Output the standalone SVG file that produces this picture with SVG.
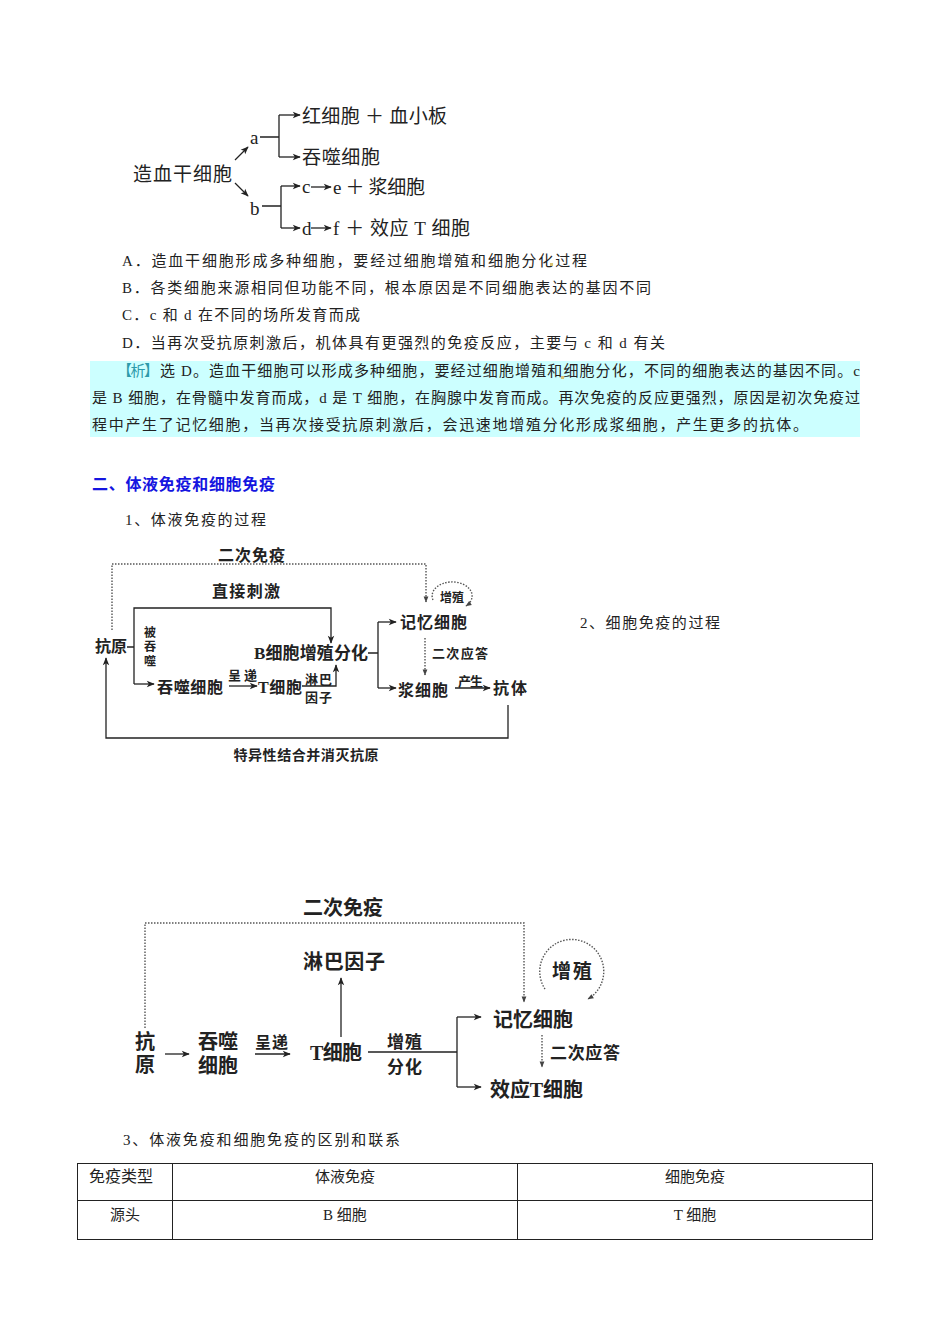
<svg xmlns="http://www.w3.org/2000/svg" width="950" height="1344" viewBox="0 0 950 1344">
<style>
.body{font-family:"Liberation Serif","Noto Sans CJK SC",serif;font-size:15px;fill:#222}
.tr{font-family:"Liberation Serif","Noto Sans CJK SC",serif;font-size:19px;fill:#222}
.dg{font-family:"Liberation Serif","Noto Sans CJK SC",sans-serif;font-weight:600;fill:#222}
.ln{fill:none;stroke:#222;stroke-width:1.3}
.dt{fill:none;stroke:#555;stroke-width:1.4;stroke-dasharray:1.5 1.5}
.tb{fill:none;stroke:#222;stroke-width:1}
</style>
<defs>
<marker id="ah" viewBox="0 0 10 10" refX="9" refY="5" markerUnits="userSpaceOnUse" markerWidth="9" markerHeight="8" orient="auto"><path d="M0,1 L10,5 L0,9 L2.5,5 z" fill="#222"/></marker>
<marker id="ahs" viewBox="0 0 10 10" refX="9" refY="5" markerUnits="userSpaceOnUse" markerWidth="7" markerHeight="6" orient="auto"><path d="M0,1 L10,5 L0,9 z" fill="#444"/></marker>
</defs>
<rect width="950" height="1344" fill="#fff"/>

<!-- Top tree -->
<g id="tree-nodes">
<g id="t-stem"><text class="tr" x="133" y="181" textLength="99">造血干细胞</text></g>
<g id="t-a"><text class="tr" x="250" y="144">a</text></g>
<g id="t-b"><text class="tr" x="250" y="215">b</text></g>
<g id="t-red"><text class="tr" x="302" y="123" textLength="145">红细胞 ＋ 血小板</text></g>
<g id="t-mac"><text class="tr" x="302" y="164" textLength="78">吞噬细胞</text></g>
<g id="t-c"><text class="tr" x="302" y="193">c</text><text class="tr" x="333" y="194" textLength="92">e ＋ 浆细胞</text></g>
<g id="t-d"><text class="tr" x="302" y="235">d</text><text class="tr" x="333" y="235" textLength="137">f ＋ 效应 T 细胞</text></g>
</g>
<g id="tree-connectors">
<path class="ln" d="M235,160 L248,147" marker-end="url(#ah)"/>
<path class="ln" d="M235,183 L248,196" marker-end="url(#ah)"/>
<path class="ln" d="M260,137 H279 M279,115 V157"/>
<path class="ln" d="M279,115 H300" marker-end="url(#ah)"/>
<path class="ln" d="M279,157 H300" marker-end="url(#ah)"/>
<path class="ln" d="M262,206 H281 M281,186 V228"/>
<path class="ln" d="M281,186 H300" marker-end="url(#ah)"/>
<path class="ln" d="M281,228 H300" marker-end="url(#ah)"/>
<path class="ln" d="M311,187 H331" marker-end="url(#ah)"/>
<path class="ln" d="M311,228 H331" marker-end="url(#ah)"/>
</g>

<!-- Options -->
<g id="options">
<text class="body" x="122" y="266" textLength="465">A．造血干细胞形成多种细胞，要经过细胞增殖和细胞分化过程</text>
<rect x="550" y="263" width="3" height="3" fill="#d8c070"/>
<text class="body" x="122" y="293" textLength="529">B．各类细胞来源相同但功能不同，根本原因是不同细胞表达的基因不同</text>
<text class="body" x="122" y="320" textLength="238">C．c 和 d 在不同的场所发育而成</text>
<text class="body" x="122" y="348" textLength="543">D．当再次受抗原刺激后，机体具有更强烈的免疫反应，主要与 c 和 d 有关</text>
</g>

<!-- Analysis -->
<g id="analysis">
<rect x="90" y="361" width="770" height="76" fill="#ccffff"/>
<text class="body" x="117" y="376" textLength="42" style="fill:#2e9bab">【析】</text>
<text class="body" x="160" y="376" textLength="700">选 D。造血干细胞可以形成多种细胞，要经过细胞增殖和细胞分化，不同的细胞表达的基因不同。c</text>
<rect x="561" y="376" width="3" height="3" fill="#d8c070"/>
<text class="body" x="92" y="403" textLength="768">是 B 细胞，在骨髓中发育而成，d 是 T 细胞，在胸腺中发育而成。再次免疫的反应更强烈，原因是初次免疫过</text>
<text class="body" x="92" y="430" textLength="716">程中产生了记忆细胞，当再次接受抗原刺激后，会迅速地增殖分化形成浆细胞，产生更多的抗体。</text>
</g>

<g id="headings">
<text x="92" y="490" textLength="183" style="font-family:'Noto Sans CJK SC',sans-serif;font-size:16px;font-weight:bold;fill:#1515e0">二、体液免疫和细胞免疫</text>
<text class="body" x="125" y="525" textLength="141">1、体液免疫的过程</text>
<text class="body" x="580" y="628" textLength="140">2、细胞免疫的过程</text>
<text class="body" x="123" y="1145" textLength="277">3、体液免疫和细胞免疫的区别和联系</text>
</g>

<!-- Humoral immunity diagram -->
<g id="humoral-nodes">
<g id="h-second"><text class="dg" x="218" y="561" font-size="16" textLength="67">二次免疫</text></g>
<g id="h-direct"><text class="dg" x="212" y="597" font-size="16" textLength="68">直接刺激</text></g>
<g id="h-antigen"><text class="dg" x="95" y="652" font-size="16" textLength="32">抗原</text></g>
<g id="h-engulf"><text class="dg" x="150" y="637" font-size="12" text-anchor="middle">被</text><text class="dg" x="150" y="651" font-size="12" text-anchor="middle">吞</text><text class="dg" x="150" y="666" font-size="12" text-anchor="middle">噬</text></g>
<g id="h-mac"><text class="dg" x="157" y="693" font-size="16" textLength="66">吞噬细胞</text></g>
<g id="h-present"><text class="dg" x="228" y="680" font-size="13" textLength="29">呈递</text></g>
<g id="h-t"><text class="dg" x="258" y="693" font-size="16" textLength="44">T细胞</text></g>
<g id="h-lymph"><text class="dg" x="305" y="684" font-size="13" textLength="27">淋巴</text><text class="dg" x="305" y="702" font-size="13" textLength="27">因子</text></g>
<g id="h-b"><text class="dg" x="254" y="659" font-size="17" textLength="114">B细胞增殖分化</text></g>
<g id="h-mem"><text class="dg" x="400" y="628" font-size="16" textLength="67">记忆细胞</text></g>
<g id="h-prolif"><text class="dg" x="452" y="602" font-size="12" text-anchor="middle">增殖</text></g>
<g id="h-resp"><text class="dg" x="432" y="658" font-size="13" textLength="56">二次应答</text></g>
<g id="h-plasma"><text class="dg" x="398" y="696" font-size="16" textLength="50">浆细胞</text></g>
<g id="h-produce"><text class="dg" x="458" y="686" font-size="13" textLength="25">产生</text></g>
<g id="h-antibody"><text class="dg" x="493" y="694" font-size="16" textLength="34">抗体</text></g>
<g id="h-bind"><text class="dg" x="306" y="760" font-size="14" text-anchor="middle" textLength="145">特异性结合并消灭抗原</text></g>
</g>
<g id="humoral-connectors">
<path class="dt" d="M112,630 V564 H426 V602" marker-end="url(#ahs)"/>
<path class="ln" d="M127,647 H134 M134,684 V608 H331 V643" marker-end="url(#ah)"/>
<path class="ln" d="M134,684 H154" marker-end="url(#ah)"/>
<path class="ln" d="M229,686 H257" marker-end="url(#ah)"/>
<path class="ln" d="M302,686 H336 V665" marker-end="url(#ah)"/>
<path class="ln" d="M368,653 H378 M378,622 V688"/>
<path class="ln" d="M378,622 H396" marker-end="url(#ah)"/>
<path class="ln" d="M378,688 H396" marker-end="url(#ah)"/>
<path class="dt" d="M433,600 A20,14 0 1,1 466,606" marker-end="url(#ahs)"/>
<path class="dt" d="M425,638 V675" marker-end="url(#ahs)"/>
<path class="ln" d="M455,688 H490" marker-end="url(#ah)"/>
<path class="ln" d="M508,705 V738 H106 V658" marker-end="url(#ah)"/>
</g>

<!-- Cellular immunity diagram -->
<g id="cell-nodes">
<g id="c-second"><text class="dg" x="303" y="915" font-size="20" textLength="80">二次免疫</text></g>
<g id="c-lymph"><text class="dg" x="303" y="969" font-size="20" textLength="82">淋巴因子</text></g>
<g id="c-antigen"><text class="dg" x="145" y="1049" font-size="20" text-anchor="middle">抗</text><text class="dg" x="145" y="1072" font-size="20" text-anchor="middle">原</text></g>
<g id="c-mac"><text class="dg" x="198" y="1049" font-size="20" textLength="40">吞噬</text><text class="dg" x="198" y="1073" font-size="20" textLength="40">细胞</text></g>
<g id="c-present"><text class="dg" x="255" y="1048" font-size="16" textLength="33">呈递</text></g>
<g id="c-t"><text class="dg" x="310" y="1060" font-size="20" textLength="52">T细胞</text></g>
<g id="c-pd"><text class="dg" x="387" y="1048" font-size="17" textLength="35">增殖</text><text class="dg" x="387" y="1073" font-size="17" textLength="35">分化</text></g>
<g id="c-mem"><text class="dg" x="493" y="1027" font-size="20" textLength="80">记忆细胞</text></g>
<g id="c-prolif"><text class="dg" x="552" y="978" font-size="19" textLength="40">增殖</text></g>
<g id="c-resp"><text class="dg" x="550" y="1059" font-size="17" textLength="70">二次应答</text></g>
<g id="c-eff"><text class="dg" x="490" y="1097" font-size="20" textLength="93">效应T细胞</text></g>
</g>
<g id="cell-connectors">
<path class="dt" d="M145,1028 V923 H524 V1002" marker-end="url(#ahs)"/>
<path class="ln" d="M341,1037 V978" marker-end="url(#ah)"/>
<path class="ln" d="M165,1054 H189" marker-end="url(#ah)"/>
<path class="ln" d="M255,1054 H290" marker-end="url(#ah)"/>
<path class="ln" d="M368,1052 H457 M457,1017 V1087"/>
<path class="ln" d="M457,1017 H481" marker-end="url(#ah)"/>
<path class="ln" d="M457,1087 H481" marker-end="url(#ah)"/>
<path class="dt" d="M545,989 A32,32 0 1,1 588,999" marker-end="url(#ahs)"/>
<path class="dt" d="M542,1035 V1067" marker-end="url(#ahs)"/>
</g>

<!-- Table -->
<g id="table">
<rect class="tb" x="77.5" y="1163.5" width="795" height="76"/>
<path class="tb" d="M77,1200.5 H872 M172.5,1163 V1239 M517.5,1163 V1239"/>
<text class="body" x="121" y="1182" text-anchor="middle" style="font-size:16px">免疫类型</text>
<text class="body" x="345" y="1182" text-anchor="middle">体液免疫</text>
<text class="body" x="695" y="1182" text-anchor="middle">细胞免疫</text>
<text class="body" x="125" y="1220" text-anchor="middle">源头</text>
<text class="body" x="345" y="1220" text-anchor="middle">B 细胞</text>
<text class="body" x="695" y="1220" text-anchor="middle">T 细胞</text>
</g>
</svg>
